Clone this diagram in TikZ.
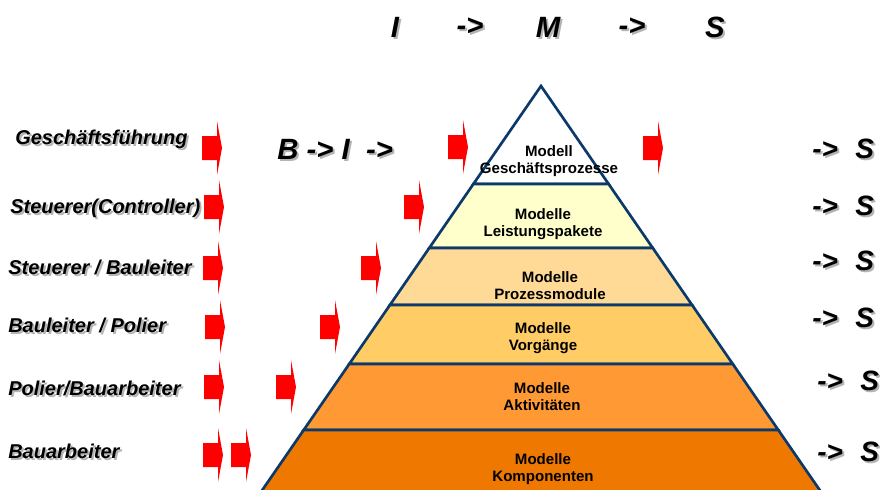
\documentclass[tikz,border=0pt]{standalone}
\usepackage{fontspec}
\setsansfont{Liberation Sans}
\usetikzlibrary{calc}
\definecolor{pyrline}{HTML}{0B3A6A}
\definecolor{layb}{HTML}{FFFFCC}
\definecolor{layc}{HTML}{FFD996}
\definecolor{layd}{HTML}{FFCC66}
\definecolor{laye}{HTML}{FF9933}
\definecolor{layf}{HTML}{EF7800}
\definecolor{arrc}{HTML}{FF0000}
\definecolor{shdc}{HTML}{B4B4B4}
\newcommand{\shd}[1]{\makebox[0pt][l]{\hspace{1.5pt}\raisebox{-1.5pt}{\textcolor{shdc}{#1}}}#1}
\tikzset{
  role/.style={anchor=west, inner sep=0pt, font=\sffamily\bfseries\itshape\fontsize{15}{18}\selectfont},
  bigtxt/.style={inner sep=0pt, font=\sffamily\bfseries\itshape\fontsize{22}{26}\selectfont},
  outtxt/.style={anchor=west, inner sep=0pt, font=\sffamily\bfseries\itshape\fontsize{21}{24}\selectfont},
  laytxt/.style={inner sep=0pt, align=center, font=\sffamily\bfseries\fontsize{11.3}{12.75}\selectfont},
  pics/blockarrow/.style={code={
    \fill[arrc] (-10,-12) -- (5,-12) -- (5,-27) -- (10,0) -- (5,27) -- (5,12) -- (-10,12) -- cycle;}}
}
\begin{document}
\begin{tikzpicture}[x=0.75pt, y=-0.75pt]
 \useasboundingbox (0,0) rectangle (880,489);
 % pyramid
 \coordinate (apex) at (541,86);
 \coordinate (bl) at (263,489);
 \coordinate (br) at (819,489);
 \begin{scope}
  \clip (0,0) rectangle (880,489);
  \foreach \ya/\yb/\col in {86/184/white,184/248/layb,248/305/layc,305/364/layd,364/430/laye,430/500/layf}{
    \pgfmathsetmacro\ta{(\ya-86)/403}
    \pgfmathsetmacro\tb{(\yb-86)/403}
    \filldraw[fill=\col, draw=pyrline, line width=2pt]
      ($(apex)!\ta!(bl)$) -- ($(apex)!\tb!(bl)$) -- ($(apex)!\tb!(br)$) -- ($(apex)!\ta!(br)$) -- cycle;}
 \end{scope}
 \node[laytxt] (lay1) at (549,161) {Modell\\Geschäftsprozesse};
 \node[laytxt] (lay2) at (543,224) {Modelle\\Leistungspakete};
 \node[laytxt] (lay3) at (550,286) {Modelle\\Prozessmodule};
 \node[laytxt] (lay4) at (543,338) {Modelle\\Vorgänge};
 \node[laytxt] (lay5) at (542,397) {Modelle\\Aktivitäten};
 \node[laytxt] (lay6) at (543,469) {Modelle\\Komponenten};

 % top line
 \node[bigtxt] (tI) at (395,28) {\shd{I}};
 \node[bigtxt] (tA1) at (470,28) {\shd{->}};
 \node[bigtxt] (tM) at (548,28) {\shd{M}};
 \node[bigtxt] (tA2) at (632,28) {\shd{->}};
 \node[bigtxt] (tS) at (715,28) {\shd{S}};
 \node[bigtxt, anchor=west] (bi) at (277,150) {\shd{B -> I\ \ ->}};

 % roles
 \node[role] (r1) at (15,140) {\shd{Geschäftsführung}};
 \node[role] (r2) at (10,209) {\shd{Steuerer(Controller)}};
 \node[role] (r3) at (8,268) {\shd{Steuerer / Bauleiter}};
 \node[role] (r4) at (8,326) {\shd{Bauleiter / Polier}};
 \node[role] (r5) at (8,389) {\shd{Polier/Bauarbeiter}};
 \node[role] (r6) at (8,452) {\shd{Bauarbeiter}};

 % red arrows
 \pic (a1) at (212,148) {blockarrow};
 \pic (b1) at (458,147) {blockarrow};
 \pic (c1) at (653,148) {blockarrow};
 \pic (a2) at (214,207) {blockarrow};
 \pic (b2) at (414,207) {blockarrow};
 \pic (a3) at (213,268) {blockarrow};
 \pic (b3) at (371,268) {blockarrow};
 \pic (a4) at (215,327) {blockarrow};
 \pic (b4) at (330,327) {blockarrow};
 \pic (a5) at (214,387) {blockarrow};
 \pic (b5) at (286,387) {blockarrow};
 \pic (a6) at (213,455) {blockarrow};
 \pic (b6) at (241,455) {blockarrow};

 % outputs
 \node[outtxt] (o1) at (812,150) {\shd{->\hspace{13pt}S}};
 \node[outtxt] (o2) at (812,207) {\shd{->\hspace{13pt}S}};
 \node[outtxt] (o3) at (812,262) {\shd{->\hspace{13pt}S}};
 \node[outtxt] (o4) at (812,319) {\shd{->\hspace{13pt}S}};
 \node[outtxt] (o5) at (817,382) {\shd{->\hspace{13pt}S}};
 \node[outtxt] (o6) at (817,453) {\shd{->\hspace{13pt}S}};
\end{tikzpicture}
\end{document}
